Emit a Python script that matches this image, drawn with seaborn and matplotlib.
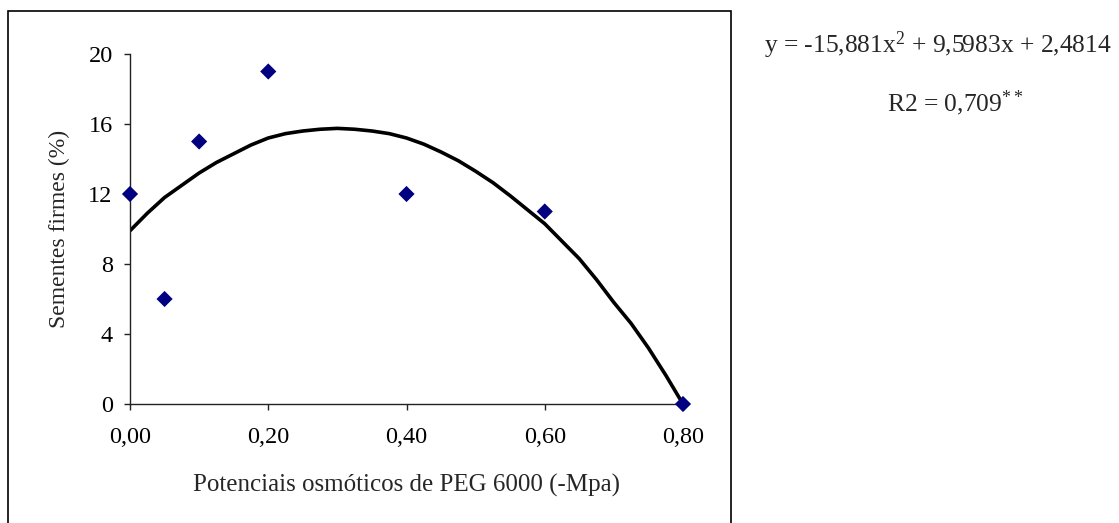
import matplotlib
matplotlib.use("Agg")
import matplotlib.pyplot as plt
import seaborn as sns
import pandas as pd
from matplotlib.patches import Rectangle

# Observed data
potencial = [0.00, 0.05, 0.10, 0.20, 0.40, 0.60, 0.80]
sementes = [12, 6, 15, 19, 12, 11, 0]

# Trend curve values
curve_x = [0.000, 0.025, 0.050, 0.075, 0.100, 0.125, 0.150, 0.175, 0.200,
           0.225, 0.250, 0.275, 0.300, 0.325, 0.350, 0.375, 0.400, 0.425,
           0.450, 0.475, 0.500, 0.525, 0.550, 0.575, 0.600, 0.625, 0.650,
           0.675, 0.700, 0.725, 0.750, 0.775, 0.800]
curve_y = [9.9, 10.9, 11.8, 12.5, 13.2, 13.8, 14.3, 14.8, 15.2,
           15.45, 15.6, 15.7, 15.75, 15.7, 15.6, 15.45, 15.2, 14.85,
           14.4, 13.9, 13.3, 12.65, 11.9, 11.1, 10.3, 9.3, 8.3,
           7.1, 5.8, 4.6, 3.2, 1.65, 0.0]

x_ticks = [0.0, 0.2, 0.4, 0.6, 0.8]
x_ticklabels = ["0,00", "0,20", "0,40", "0,60", "0,80"]
y_ticks = [0, 4, 8, 12, 16, 20]

sns.set_style("white")
plt.rcParams["font.family"] = ["Liberation Serif", "DejaVu Serif"]
plt.rcParams["mathtext.fontset"] = "custom"
plt.rcParams["mathtext.rm"] = "Liberation Serif"
plt.rcParams["mathtext.it"] = "Liberation Serif"

fig = plt.figure(figsize=(11.19, 5.23), dpi=100)
W, H = 1119, 523
ax = fig.add_axes([130 / W, 1 - 404 / H, (683 - 130) / W, (404 - 54) / H])

df_pts = pd.DataFrame({"x": potencial, "y": sementes})
df_curve = pd.DataFrame({"x": curve_x, "y": curve_y})

sns.lineplot(data=df_curve, x="x", y="y", ax=ax, color="black", lw=2.6,
             sort=False, estimator=None)
sns.scatterplot(data=df_pts, x="x", y="y", ax=ax, marker="D", s=68,
                color="#000080", edgecolor="none", linewidth=0, zorder=5,
                clip_on=False)

ax.set_xlim(0, 0.8)
ax.set_ylim(0, 20)
ax.set_xticks(x_ticks)
ax.set_xticklabels(x_ticklabels)
ax.set_yticks(y_ticks)
for s in ["top", "right"]:
    ax.spines[s].set_visible(False)
for s in ["left", "bottom"]:
    ax.spines[s].set_color("#222222")
    ax.spines[s].set_linewidth(1.0)
ax.tick_params(axis="both", which="major", direction="out", length=4.5,
               width=1.0, color="#222222", labelsize=17.5, labelcolor="black",
               bottom=True, left=True)
ax.tick_params(axis="x", pad=12)
ax.tick_params(axis="y", pad=8)

ax.set_xlabel("Potenciais osmóticos de PEG 6000 (-Mpa)", fontsize=18,
              labelpad=19)
ax.set_ylabel("Sementes firmes (%)", fontsize=17, labelpad=13)

fig.text(764 / W, 1 - 45 / H, r"y = -15,881x$^{2}$ + 9,5983x + 2,4814",
         fontsize=18.4, ha="left", va="center")
fig.text(955 / W, 1 - 103 / H, r"R2 = 0,709$^{**}$",
         fontsize=18.4, ha="center", va="center")

rect = Rectangle((8 / W, -0.05), (731 - 8) / W, 1.05 - 11 / H,
                 transform=fig.transFigure, fill=False, edgecolor="black",
                 linewidth=1.2, clip_on=False)
fig.patches.append(rect)

fig.savefig("out.png", dpi=100)
